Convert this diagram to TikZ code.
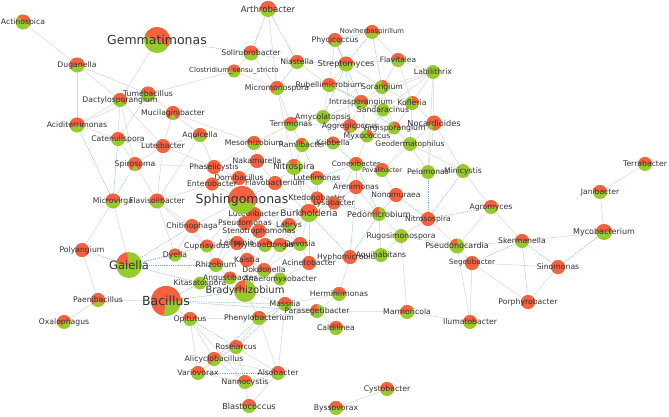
\documentclass[tikz,border=0pt]{standalone}
\usepackage{fontspec}
\setmainfont{DejaVu Sans}
\usetikzlibrary{backgrounds}
\definecolor{pred}{RGB}{248,96,64}
\definecolor{pgreen}{RGB}{150,202,45}
\definecolor{labgray}{RGB}{50,50,50}
\definecolor{negblue}{RGB}{125,180,215}
\definecolor{posgray}{RGB}{215,215,215}
\begin{document}
\begin{tikzpicture}[x=1pt,y=-1pt,
            bug/.style={circle,fill=pgreen,inner sep=0,outer sep=0},
            pie/.style 2 args={path picture={\fill[pred] (path picture bounding box.center)
                             -- ++(#1:20pt) arc[start angle=#1,end angle=#2,radius=20pt] -- cycle;}},
            lab/.style={text=labgray,inner sep=0},
            posedge/.style={draw=posgray,line width=0.5pt},
            negedge/.style={draw=negblue,line width=0.5pt,dash pattern=on 1.2pt off 1pt}]
            % genus nodes: name/x/y/diameter/red from/red to/font size/text
            \foreach \n/\x/\y/\d/\ra/\rb/\fs/\lbl in {
              Actinospica/23/22/15/0/130/7.7/Actinospica,
              Gemmatimonas/157/40/26/-30/160/12.5/Gemmatimonas,
              Duganella/77/65/15/-10/190/7.7/Duganella,
              Tumebacillus/148/94/15/-10/170/7.7/Tumebacillus,
              Dactylosporangium/120/100/14/-40/170/7.7/Dactylosporangium,
              Aciditerrimonas/77/125/15/-20/200/7.7/Aciditerrimonas,
              Catenulispora/118/139/14/0/180/7.7/Catenulispora,
              Arthrobacter/268/9/16/-10/190/8.6/Arthrobacter,
              Solirubrobacter/251/53/15/0/180/7.7/Solirubrobacter,
              Niastella/297/62/14/0/180/7.7/Niastella,
              Clostridium/234/71/13/0/180/7/Clostridium\_sensu\_stricto,
              Micromonospora/277/88/14/20/220/7.7/Micromonospora,
              Rubellimicrobium/329/85/14/0/180/7.7/Rubellimicrobium,
              Mucilaginibacter/173/113/14/-60/240/7.7/Mucilaginibacter,
              Terrimonas/291/124/14/20/180/7.7/Terrimonas,
              Amycolatopsis/323/117/14/0/0/7.7/Amycolatopsis,
              Aquicella/200/135/14/-30/210/7.7/Aquicella,
              Phycicoccus/335/40/14/-40/220/7.7/Phycicoccus,
              Noviherbaspirillum/372/32/14/-20/200/6.8/Noviherbaspirillum,
              Streptomyces/346/64/15/0/180/8.2/Streptomyces,
              Flavitalea/398/60/14/0/180/7.5/Flavitalea,
              Labilithrix/433/72/14/0/0/7.7/Labilithrix,
              Sorangium/382/87/14/20/90/7.7/Sorangium,
              Intrasporangium/361/102/14/-30/180/7.7/Intrasporangium,
              Kofleria/412/103/14/0/90/7.7/Kofleria,
              Sandaracinus/383/110/13/0/0/7.7/Sandaracinus,
              Nocardioides/434/123/15/-100/200/8.2/Nocardioides,
              Aggregicoccus/350/126/14/-40/250/7.7/Aggregicoccus,
              Virgisporangium/394/128/13/0/100/7.7/Virgisporangium,
              Myxococcus/367/136/13/0/90/7.7/Myxococcus,
              Geodermatophilus/410/144/14/0/0/7.5/Geodermatophilus,
              Ramlibacter/302/145/14/60/150/7.7/Ramlibacter,
              Mesorhizobium/254/143/14/0/180/7.7/Mesorhizobium,
              Kribbella/333/143/13/0/180/7.7/Kribbella,
              Phaselicystis/214/167/14/0/360/7.7/Phaselicystis,
              Nakamurella/257/161/14/0/360/7.7/Nakamurella,
              Nitrospira/294/167/16/60/130/8.5/Nitrospira,
              Domibacillus/239/178/14/0/360/7.7/Domibacillus,
              Flavobacterium/275/183/14/0/360/7.7/Flavobacterium,
              Lutelimonas/317/178/14/0/180/7.7/Lutelimonas,
              Enterobacter/212/184/13/0/360/7.7/Enterobacter,
              Ktedonobacter/317/198/13/0/360/7.7/Ktedonobacter,
              Lysobacter/334/203/13/0/360/7.7/Lysobacter,
              Luteolibacter/254/214/14/0/360/7.7/Luteolibacter,
              Pseudomonas/245/223/14/0/360/7.7/Pseudomonas,
              Labrys/289/225/14/0/180/7.7/Labrys,
              Stenotrophomonas/259/231/14/0/360/7.7/Stenotrophomonas,
              Chitinophaga/192/226/14/0/360/7.7/Chitinophaga,
              Leifsonia/237/243/14/0/360/7.7/Leifsonia,
              Phyllobacterium/265/245/14/0/180/7.7/Phyllobacterium,
              Dongia/280/245/14/0/180/7.7/Dongia,
              Devosia/300/244/14/0/180/7.7/Devosia,
              Cupriavidus/207/246/13/-30/200/7.7/Cupriavidus,
              Dyella/175/255/13/0/180/7.7/Dyella,
              Kaistia/247/260/14/0/360/7.7/Kaistia,
              Rhizobium/216/265/14/0/180/7.7/Rhizobium,
              Acinetobacter/309/263/14/0/360/7.7/Acinetobacter,
              Dokdonella/264/270/14/-30/200/7.7/Dokdonella,
              Hyphomicrobium/350/257/14/0/360/7.7/Hyphomicrobium,
              Aquihabitans/381/255/14/0/0/7.7/Aquihabitans,
              Burkholderia/309/213/18/0/200/9/Burkholderia,
              Sphingomonas/242/200/28/-20/190/12.5/Sphingomonas,
              Conexibacter/356/164/14/0/180/7.3/Conexibacter,
              Povalibacter/382/170/14/20/200/6.5/Povalibacter,
              Pelomonas/428/172/14/0/0/7.7/Pelomonas,
              Minicystis/463/171/14/0/0/7.7/Minicystis,
              Arenimonas/356/187/14/0/360/7.7/Arenimonas,
              Nonomuraea/396/195/14/0/360/7.6/Nonomuraea,
              Pedomicrobium/379/214/14/90/180/8.2/Pedomicrobium,
              Nitrosospira/428/219/14/0/360/7.6/Nitrosospira,
              Agromyces/491/207/14/0/180/7.7/Agromyces,
              Rugosimonospora/401/236/14/0/0/7.7/Rugosimonospora,
              Pseudonocardia/457/246/15/90/160/8/Pseudonocardia,
              Segetibacter/472/263/14/0/360/7.2/Segetibacter,
              Terrabacter/645/164/14/0/180/7.7/Terrabacter,
              Janibacter/600/192/14/0/180/7.6/Janibacter,
              Mycobacterium/604/232/16/0/180/8/Mycobacterium,
              Skermanella/522/241/14/0/180/7.7/Skermanella,
              Sinomonas/558/267/14/0/360/7.7/Sinomonas,
              Porphyrobacter/528/302/14/0/360/7.7/Porphyrobacter,
              Microvirga/113/201/15/0/180/7.7/Microvirga,
              Flavisolibacter/157/201/15/0/200/7.7/Flavisolibacter,
              Spirosoma/135/164/14/-60/240/7.7/Spirosoma,
              Luteibacter/163/146/14/0/360/7.7/Luteibacter,
              Polyangium/82/250/14/0/360/7.7/Polyangium,
              Gaiella/129/265/26/100/170/11.5/Gaiella,
              Paenibacillus/98/300/14/-30/220/7.7/Paenibacillus,
              Oxalophagus/64/322/14/10/200/7.7/Oxalophagus,
              Bacillus/166/301/30/0/260/12.5/Bacillus,
              Kitasatospora/200/283/13/0/0/7.7/Kitasatospora,
              Angustibacter/230/278/13/0/180/7.7/Angustibacter,
              Anaeromyxobacter/280/279/13/0/0/7.7/Anaeromyxobacter,
              Bradyrhizobium/245/291/22/90/180/10/Bradyrhizobium,
              Massilia/285/304/14/0/180/7.7/Massilia,
              Parasegetibacter/317/311/14/90/180/7.7/Parasegetibacter,
              Herminiimonas/339/294/14/0/180/7.7/Herminiimonas,
              Opitutus/190/319/14/0/180/7.7/Opitutus,
              Phenylobacterium/259/318/14/0/180/7.7/Phenylobacterium,
              Caldilinea/336/328/14/0/180/7.7/Caldilinea,
              Roseiarcus/236/347/14/0/180/7.7/Roseiarcus,
              Alicyclobacillus/214/359/14/20/230/7.7/Alicyclobacillus,
              Variovorax/198/373/14/0/180/7.7/Variovorax,
              Nannocystis/245/382/14/0/180/7.7/Nannocystis,
              Alsobacter/278/373/14/0/180/7.7/Alsobacter,
              Blastococcus/249/406/14/0/180/8.2/Blastococcus,
              Byssovorax/336/408/14/0/180/7.7/Byssovorax,
              Cystobacter/387/389/14/0/180/7.7/Cystobacter,
              Marmoricola/407/312/14/30/200/7.7/Marmoricola,
              Ilumatobacter/470/322/14/0/180/7.7/Ilumatobacter}
              \node[bug,minimum size=\d pt,pie={\ra}{\rb},
                    label={[lab,font=\fontsize{\fs}{\fs}\selectfont]center:\lbl}] (\n) at (\x,\y) {};
            %==================
            \begin{scope}[on background layer]
            \path[fill=white,use as bounding box] (0,0) rectangle (669,416);
            % co-occurrence, positive
            \foreach \u/\v in {Actinospica/Duganella,Duganella/Aciditerrimonas,Duganella/Dactylosporangium,
              Duganella/Tumebacillus,Gemmatimonas/Dactylosporangium,Tumebacillus/Dactylosporangium,
              Tumebacillus/Catenulispora,Tumebacillus/Mucilaginibacter,Tumebacillus/Clostridium,
              Dactylosporangium/Catenulispora,Dactylosporangium/Aciditerrimonas,Aciditerrimonas/Tumebacillus,
              Aciditerrimonas/Catenulispora,Dactylosporangium/Spirosoma,Dactylosporangium/Luteibacter,
              Catenulispora/Spirosoma,Catenulispora/Luteibacter,Luteibacter/Spirosoma,Spirosoma/Flavisolibacter,
              Luteibacter/Flavisolibacter,Mucilaginibacter/Aquicella,Mucilaginibacter/Luteibacter,
              Aquicella/Luteibacter,Aquicella/Flavisolibacter,Aquicella/Phaselicystis,Mucilaginibacter/Mesorhizobium,
              Luteibacter/Phaselicystis,Spirosoma/Phaselicystis,Microvirga/Gaiella,Microvirga/Polyangium,
              Polyangium/Paenibacillus,Paenibacillus/Bacillus,Paenibacillus/Oxalophagus,Flavisolibacter/Chitinophaga,
              Flavisolibacter/Enterobacter,Flavisolibacter/Dyella,Flavisolibacter/Cupriavidus,
              Arthrobacter/Micromonospora,Solirubrobacter/Niastella,Solirubrobacter/Micromonospora,
              Clostridium/Micromonospora,Clostridium/Solirubrobacter,Micromonospora/Terrimonas,
              Micromonospora/Rubellimicrobium,Micromonospora/Nitrospira,Niastella/Rubellimicrobium,
              Phycicoccus/Rubellimicrobium,Phycicoccus/Streptomyces,Noviherbaspirillum/Flavitalea,
              Streptomyces/Sorangium,Streptomyces/Flavitalea,Flavitalea/Sorangium,Flavitalea/Kofleria,
              Flavitalea/Labilithrix,Labilithrix/Sorangium,Labilithrix/Kofleria,Labilithrix/Nocardioides,
              Labilithrix/Sandaracinus,Labilithrix/Intrasporangium,Labilithrix/Pelomonas,Sorangium/Kofleria,
              Sorangium/Intrasporangium,Sorangium/Sandaracinus,Sorangium/Virgisporangium,
              Intrasporangium/Sandaracinus,Intrasporangium/Aggregicoccus,Intrasporangium/Myxococcus,
              Kofleria/Nocardioides,Kofleria/Sandaracinus,Kofleria/Virgisporangium,Kofleria/Geodermatophilus,
              Nocardioides/Virgisporangium,Nocardioides/Geodermatophilus,Nocardioides/Pelomonas,
              Nocardioides/Minicystis,Sandaracinus/Virgisporangium,Sandaracinus/Myxococcus,
              Aggregicoccus/Myxococcus,Aggregicoccus/Amycolatopsis,Virgisporangium/Myxococcus,
              Virgisporangium/Geodermatophilus,Myxococcus/Geodermatophilus,Myxococcus/Conexibacter,
              Amycolatopsis/Rubellimicrobium,Amycolatopsis/Terrimonas,Amycolatopsis/Kribbella,
              Amycolatopsis/Intrasporangium,Terrimonas/Ramlibacter,Terrimonas/Mesorhizobium,
              Rubellimicrobium/Streptomyces,Rubellimicrobium/Intrasporangium,Ramlibacter/Nitrospira,
              Ramlibacter/Kribbella,Mesorhizobium/Nakamurella,Mesorhizobium/Phaselicystis,
              Phaselicystis/Domibacillus,Phaselicystis/Enterobacter,Nakamurella/Domibacillus,
              Nakamurella/Flavobacterium,Nakamurella/Nitrospira,Domibacillus/Sphingomonas,
              Flavobacterium/Sphingomonas,Enterobacter/Sphingomonas,Nakamurella/Sphingomonas,
              Sphingomonas/Luteolibacter,Sphingomonas/Pseudomonas,Sphingomonas/Stenotrophomonas,
              Sphingomonas/Chitinophaga,Sphingomonas/Leifsonia,Sphingomonas/Cupriavidus,Sphingomonas/Burkholderia,
              Sphingomonas/Labrys,Sphingomonas/Phaselicystis,Sphingomonas/Kaistia,Sphingomonas/Rhizobium,
              Sphingomonas/Dokdonella,Sphingomonas/Dongia,Sphingomonas/Devosia,Sphingomonas/Phyllobacterium,
              Burkholderia/Labrys,Burkholderia/Ktedonobacter,Burkholderia/Lysobacter,Burkholderia/Devosia,
              Burkholderia/Dongia,Burkholderia/Lutelimonas,Burkholderia/Flavobacterium,Burkholderia/Acinetobacter,
              Flavobacterium/Lutelimonas,Flavobacterium/Nitrospira,Nitrospira/Lutelimonas,Nitrospira/Ktedonobacter,
              Lutelimonas/Ktedonobacter,Ktedonobacter/Lysobacter,Lysobacter/Arenimonas,Lysobacter/Conexibacter,
              Labrys/Dongia,Labrys/Devosia,Labrys/Stenotrophomonas,Pseudomonas/Stenotrophomonas,
              Pseudomonas/Luteolibacter,Pseudomonas/Leifsonia,Stenotrophomonas/Phyllobacterium,
              Stenotrophomonas/Kaistia,Leifsonia/Kaistia,Leifsonia/Cupriavidus,Leifsonia/Rhizobium,
              Kaistia/Dokdonella,Kaistia/Rhizobium,Dokdonella/Dongia,Dokdonella/Devosia,Dokdonella/Acinetobacter,
              Dongia/Devosia,Devosia/Acinetobacter,Acinetobacter/Hyphomicrobium,Chitinophaga/Cupriavidus,
              Chitinophaga/Dyella,Cupriavidus/Rhizobium,Dyella/Rhizobium,Rhizobium/Kitasatospora,
              Rhizobium/Angustibacter,Kitasatospora/Angustibacter,Angustibacter/Bradyrhizobium,
              Bradyrhizobium/Anaeromyxobacter,Bradyrhizobium/Massilia,Bradyrhizobium/Phenylobacterium,
              Bradyrhizobium/Kaistia,Bradyrhizobium/Dokdonella,Anaeromyxobacter/Massilia,
              Anaeromyxobacter/Acinetobacter,Massilia/Parasegetibacter,Massilia/Herminiimonas,
              Herminiimonas/Parasegetibacter,Herminiimonas/Hyphomicrobium,Parasegetibacter/Caldilinea,
              Parasegetibacter/Marmoricola,Caldilinea/Herminiimonas,Marmoricola/Ilumatobacter,
              Marmoricola/Rugosimonospora,Ilumatobacter/Segetibacter,Ilumatobacter/Pseudonocardia,
              Opitutus/Phenylobacterium,Opitutus/Alicyclobacillus,Opitutus/Variovorax,Opitutus/Nannocystis,
              Opitutus/Bacillus,Roseiarcus/Phenylobacterium,Roseiarcus/Alicyclobacillus,Roseiarcus/Variovorax,
              Roseiarcus/Nannocystis,Roseiarcus/Alsobacter,Alicyclobacillus/Variovorax,Alicyclobacillus/Nannocystis,
              Alicyclobacillus/Alsobacter,Variovorax/Nannocystis,Nannocystis/Alsobacter,Nannocystis/Blastococcus,
              Alsobacter/Blastococcus,Alsobacter/Phenylobacterium,Alsobacter/Massilia,Phenylobacterium/Massilia,
              Cystobacter/Byssovorax,Terrabacter/Janibacter,Janibacter/Mycobacterium,Mycobacterium/Skermanella,
              Skermanella/Agromyces,Sinomonas/Segetibacter,Sinomonas/Porphyrobacter,Porphyrobacter/Segetibacter,
              Segetibacter/Pseudonocardia,Agromyces/Pseudonocardia,Agromyces/Minicystis,Pseudonocardia/Nitrosospira,
              Pelomonas/Minicystis,Pelomonas/Povalibacter,Pelomonas/Geodermatophilus,Minicystis/Geodermatophilus,
              Conexibacter/Povalibacter,Conexibacter/Arenimonas,Povalibacter/Nonomuraea,Povalibacter/Geodermatophilus,
              Arenimonas/Nonomuraea,Arenimonas/Pedomicrobium,Nonomuraea/Pedomicrobium,Pedomicrobium/Rugosimonospora,
              Pedomicrobium/Aquihabitans,Rugosimonospora/Aquihabitans,Hyphomicrobium/Aquihabitans,
              Rugosimonospora/Nitrosospira}
              \draw[posedge] (\u.center) -- (\v.center);
            % co-exclusion, negative
            \foreach \u/\v in {Aciditerrimonas/Microvirga,Catenulispora/Microvirga,Spirosoma/Microvirga,
              Gemmatimonas/Solirubrobacter,Arthrobacter/Solirubrobacter,Arthrobacter/Niastella,
              Niastella/Streptomyces,Niastella/Micromonospora,Phycicoccus/Noviherbaspirillum,
              Noviherbaspirillum/Streptomyces,Noviherbaspirillum/Sorangium,Phycicoccus/Intrasporangium,
              Streptomyces/Aggregicoccus,Streptomyces/Amycolatopsis,Rubellimicrobium/Sandaracinus,
              Intrasporangium/Virgisporangium,Aggregicoccus/Terrimonas,Myxococcus/Kribbella,Polyangium/Gaiella,
              Gaiella/Dyella,Gaiella/Cupriavidus,Gaiella/Rhizobium,Gaiella/Kitasatospora,Gaiella/Chitinophaga,
              Bacillus/Bradyrhizobium,Bacillus/Massilia,Bacillus/Kitasatospora,Bacillus/Parasegetibacter,
              Opitutus/Roseiarcus,Phenylobacterium/Parasegetibacter,Roseiarcus/Massilia,Variovorax/Alsobacter,
              Alicyclobacillus/Phenylobacterium,Mycobacterium/Sinomonas,Skermanella/Sinomonas,
              Skermanella/Porphyrobacter,Skermanella/Segetibacter,Skermanella/Pseudonocardia,
              Nitrosospira/Pedomicrobium,Nitrosospira/Pelomonas,Nitrosospira/Agromyces,Nitrosospira/Nonomuraea,
              Nitrosospira/Minicystis,Pseudonocardia/Rugosimonospora,Conexibacter/Pedomicrobium,
              Conexibacter/Lutelimonas,Lysobacter/Pedomicrobium,Arenimonas/Hyphomicrobium,
              Pedomicrobium/Hyphomicrobium,Lutelimonas/Arenimonas,Nitrospira/Burkholderia,
              Burkholderia/Hyphomicrobium,Ramlibacter/Lutelimonas,Kribbella/Conexibacter}
              \draw[negedge] (\u.center) -- (\v.center);
            \end{scope}
        \end{tikzpicture}
\end{document}
